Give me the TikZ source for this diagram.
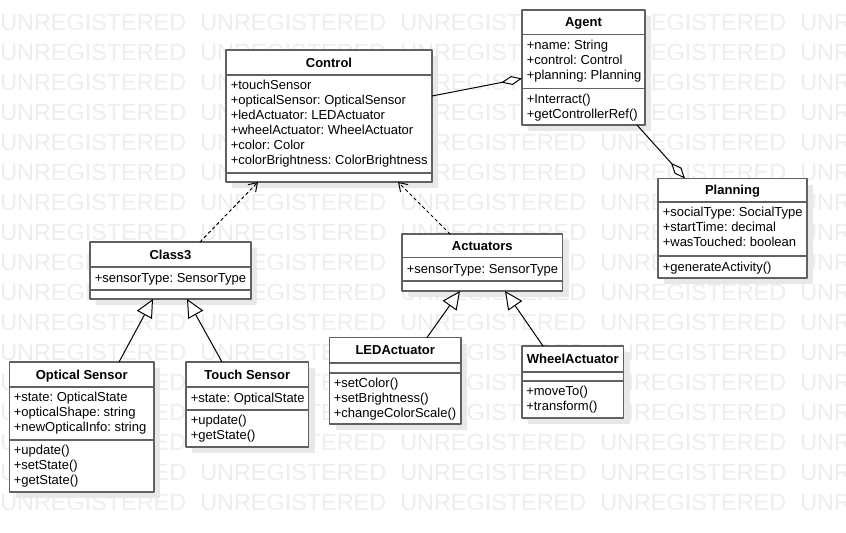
\documentclass[tikz,border=0pt]{standalone}
\usepackage{fontspec}
\setmainfont{Liberation Sans}
\usetikzlibrary{arrows.meta,shadows,fit}
\definecolor{wmgray}{rgb}{0.93,0.93,0.93}
\definecolor{boxgray}{rgb}{0.38,0.38,0.38}
\frenchspacing
\tikzset{
    umlbox/.style = {draw=boxgray, line width=1.1pt, fill=white, inner sep=0pt, outer sep=0pt,
        drop shadow={shadow xshift=4.5pt, shadow yshift=-4.5pt, fill=black!9, opacity=1}},
    umlsep/.style = {draw=boxgray, line width=1.1pt},
    umltitle/.style = {font=\fontsize{9.75}{11.25}\selectfont\bfseries, inner sep=0pt,
        text height=7pt, text depth=0pt},
    umltext/.style = {font=\fontsize{9.75}{11.25}\selectfont, align=left, inner sep=0pt,
        anchor=north west, execute at begin node=\strut},
    watermark/.style = {font=\fontsize{17.55}{20}\selectfont, text=wmgray, inner sep=0pt,
        anchor=base west},
    dep/.style = {line width=0.75pt, dash pattern=on 2.25pt off 2.25pt,
        -{Straight Barb[length=6pt, width=8pt]}},
    gen/.style = {line width=0.75pt, -{Triangle[open, length=13.5pt, width=12.75pt, fill=white]}},
    aggr/.style = {line width=0.75pt, -{Diamond[open, length=15.75pt, width=6.75pt, fill=white]}}
}
\begin{document}
\begin{tikzpicture}[line cap=round,line join=round,x=0.75pt,y=-0.75pt]
    \useasboundingbox (0,0) rectangle (846,532);

    \begin{scope}
    \clip (0,0) rectangle (846,532);
    \foreach \row in {1,...,17} {
        \foreach \col in {0,...,4} {
            \node[watermark] (wm-\row-\col) at (200*\col,30*\row) {UNREGISTERED};
        }
    }
    \end{scope}

    % Control
    \node[umlbox, fit={(226,50) (432,182)}] (control) {};
    \draw[umlsep] (control.west |- 0,75) -- (control.east |- 0,75);
    \draw[umlsep] (control.west |- 0,173) -- (control.east |- 0,173);
    \node[umltitle] (control-t) at (329,62.5) {Control};
    \node[umltext] (control-a) at (230.5,80) {+touchSensor\\+opticalSensor: OpticalSensor\\+ledActuator: LEDActuator\\+wheelActuator: WheelActuator\\+color: Color\\+colorBrightness: ColorBrightness};

    % Agent
    \node[umlbox, fit={(522,10) (645,125)}] (agent) {};
    \draw[umlsep] (agent.west |- 0,34.5) -- (agent.east |- 0,34.5);
    \draw[umlsep] (agent.west |- 0,88.5) -- (agent.east |- 0,88.5);
    \node[umltitle] (agent-t) at (583.5,22.25) {Agent};
    \node[umltext] (agent-a) at (526.5,39.5) {+name: String\\+control: Control\\+planning: Planning};
    \node[umltext] (agent-m) at (526.5,93.5) {+Interract()\\+getControllerRef()};

    % Planning
    \node[umlbox, fit={(658,178.5) (807,278)}] (planning) {};
    \draw[umlsep] (planning.west |- 0,202) -- (planning.east |- 0,202);
    \draw[umlsep] (planning.west |- 0,256) -- (planning.east |- 0,256);
    \node[umltitle] (planning-t) at (732.5,190.25) {Planning};
    \node[umltext] (planning-a) at (662.5,207) {+socialType: SocialType\\+startTime: decimal\\+wasTouched: boolean};
    \node[umltext] (planning-m) at (662.5,261) {+generateActivity()};

    % Class3
    \node[umlbox, fit={(90,242) (251,299)}] (class3) {};
    \draw[umlsep] (class3.west |- 0,267) -- (class3.east |- 0,267);
    \draw[umlsep] (class3.west |- 0,290) -- (class3.east |- 0,290);
    \node[umltitle] (class3-t) at (170.5,254.5) {Class3};
    \node[umltext] (class3-a) at (94.5,272) {+sensorType: SensorType};

    % Actuators
    \node[umlbox, fit={(402,234) (562.5,291)}] (actuators) {};
    \draw[umlsep] (actuators.west |- 0,257.5) -- (actuators.east |- 0,257.5);
    \draw[umlsep] (actuators.west |- 0,281) -- (actuators.east |- 0,281);
    \node[umltitle] (actuators-t) at (482.25,245.75) {Actuators};
    \node[umltext] (actuators-a) at (406.5,262.5) {+sensorType: SensorType};

    % Optical Sensor
    \node[umlbox, fit={(9.5,362) (154,492)}] (optical) {};
    \draw[umlsep] (optical.west |- 0,387) -- (optical.east |- 0,387);
    \draw[umlsep] (optical.west |- 0,440) -- (optical.east |- 0,440);
    \node[umltitle] (optical-t) at (81.75,374.5) {Optical Sensor};
    \node[umltext] (optical-a) at (13.5,392) {+state: OpticalState\\+opticalShape: string\\+newOpticalInfo: string};
    \node[umltext] (optical-m) at (13.5,445) {+update()\\+setState()\\+getState()};

    % Touch Sensor
    \node[umlbox, fit={(186,362) (308.5,447)}] (touch) {};
    \draw[umlsep] (touch.west |- 0,387) -- (touch.east |- 0,387);
    \draw[umlsep] (touch.west |- 0,410) -- (touch.east |- 0,410);
    \node[umltitle] (touch-t) at (247.25,374.5) {Touch Sensor};
    \node[umltext] (touch-a) at (190.5,392) {+state: OpticalState};
    \node[umltext] (touch-m) at (190.5,415) {+update()\\+getState()};

    % LEDActuator
    \node[umlbox, fit={(329.5,337.5) (461,424)}] (led) {};
    \draw[umlsep] (led.west |- 0,363) -- (led.east |- 0,363);
    \draw[umlsep] (led.west |- 0,373) -- (led.east |- 0,373);
    \node[umltitle] (led-t) at (395.25,350.25) {LEDActuator};
    \node[umltext] (led-m) at (333.5,378) {+setColor()\\+setBrightness()\\+changeColorScale()};

    % WheelActuator
    \node[umlbox, fit={(522,346) (623.5,418)}] (wheel) {};
    \draw[umlsep] (wheel.west |- 0,372) -- (wheel.east |- 0,372);
    \draw[umlsep] (wheel.west |- 0,381) -- (wheel.east |- 0,381);
    \node[umltitle] (wheel-t) at (572.75,359) {WheelActuator};
    \node[umltext] (wheel-m) at (526,386) {+moveTo()\\+transform()};

    % connectors
    \draw[aggr] (control.east |- 0,96) -- (agent.west |- 0,78.5);
    \draw[aggr] (agent.south -| 637,0) -- (planning.north -| 685,0);
    \draw[dep] (class3.north -| 200,0) -- (control.south -| 258,0);
    \draw[dep] (actuators.north -| 450,0) -- (control.south -| 398,0);
    \draw[gen] (optical.north -| 119,0) -- (class3.south -| 153,0);
    \draw[gen] (touch.north -| 222,0) -- (class3.south -| 187,0);
    \draw[gen] (led.north -| 427,0) -- (actuators.south -| 460,0);
    \draw[gen] (wheel.north -| 543,0) -- (actuators.south -| 505,0);
\end{tikzpicture}
\end{document}
